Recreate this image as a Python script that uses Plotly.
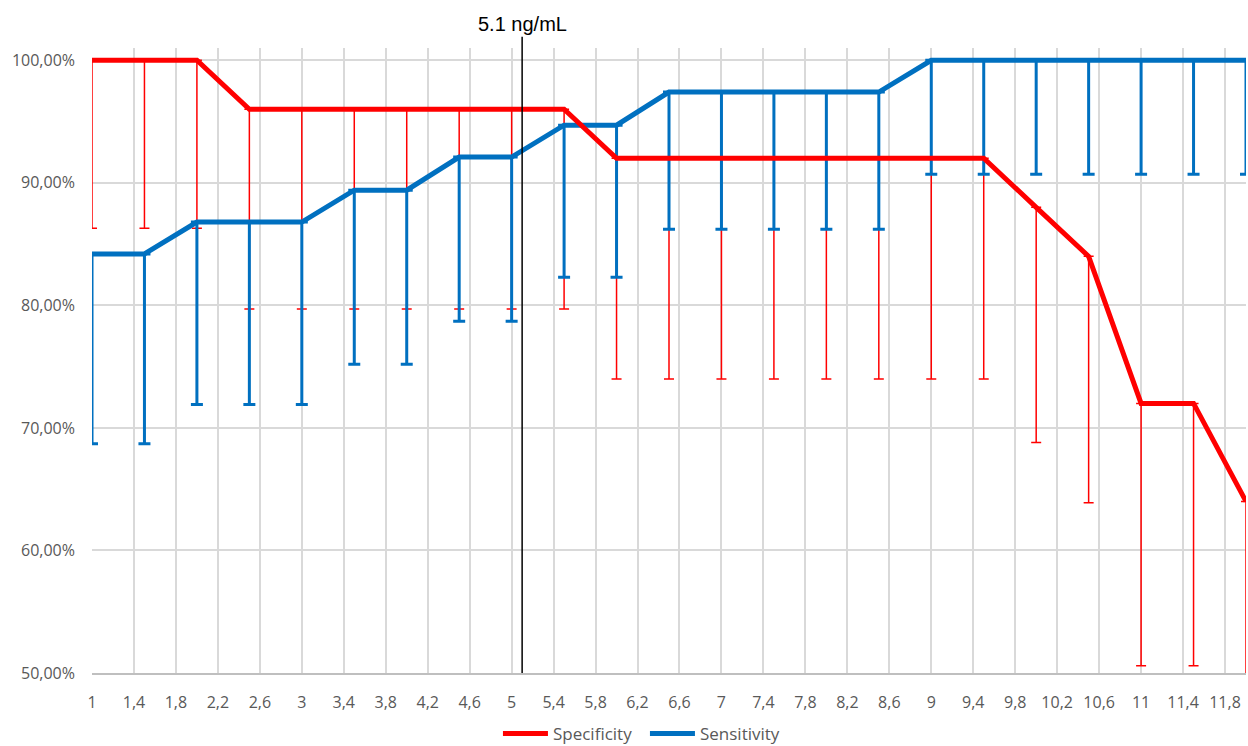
import plotly.graph_objects as go

# Cut-off values (ng/mL)
cutoff = [1, 1.5, 2, 2.5, 3, 3.5, 4, 4.5, 5, 5.5, 6, 6.5, 7, 7.5, 8, 8.5, 9, 9.5, 10, 10.5, 11, 11.5, 12]

# Specificity (%) and its lower confidence limit (%)
specificity = [100, 100, 100, 96, 96, 96, 96, 96, 96, 96, 92, 92, 92, 92, 92, 92, 92, 92, 88, 84, 72, 72, 64]
spec_lower = [86.3, 86.3, 86.3, 79.7, 79.7, 79.7, 79.7, 79.7, 79.7, 79.7, 74.0, 74.0, 74.0, 74.0, 74.0, 74.0, 74.0, 74.0, 68.8, 63.9, 50.6, 50.6, 42.5]

# Sensitivity (%) and its lower confidence limit (%)
sensitivity = [84.2, 84.2, 86.8, 86.8, 86.8, 89.4, 89.4, 92.1, 92.1, 94.7, 94.7, 97.4, 97.4, 97.4, 97.4, 97.4, 100, 100, 100, 100, 100, 100, 100]
sens_lower = [68.7, 68.7, 71.9, 71.9, 71.9, 75.2, 75.2, 78.7, 78.7, 82.3, 82.3, 86.2, 86.2, 86.2, 86.2, 86.2, 90.7, 90.7, 90.7, 90.7, 90.7, 90.7, 90.7]

# y-axis ticks
y_tickvals = [50, 60, 70, 80, 90, 100]
y_ticktext = ["50,00%", "60,00%", "70,00%", "80,00%", "90,00%", "100,00%"]

threshold = 5.1
threshold_label = "5.1 ng/mL"

RED = "#FF0000"
BLUE = "#0070C0"
GRAY = "#595959"
FONT = "Open Sans"

spec_minus = [s - l for s, l in zip(specificity, spec_lower)]
sens_minus = [s - l for s, l in zip(sensitivity, sens_lower)]

fig = go.Figure()

# red error bars (drawn below the blue series)
fig.add_trace(go.Scatter(
    x=cutoff, y=specificity, mode="markers",
    marker=dict(size=1, color="rgba(0,0,0,0)"),
    error_y=dict(type="data", symmetric=False, array=[0] * len(cutoff),
                 arrayminus=spec_minus, color=RED, thickness=1.5, width=5),
    showlegend=False, hoverinfo="skip",
))

# blue series with its error bars
fig.add_trace(go.Scatter(
    x=cutoff, y=sensitivity, mode="lines", name="Sensitivity",
    line=dict(color=BLUE, width=5),
    error_y=dict(type="data", symmetric=False, array=[0] * len(cutoff),
                 arrayminus=sens_minus, color=BLUE, thickness=3, width=6),
    legendrank=2,
))

# red line on top
fig.add_trace(go.Scatter(
    x=cutoff, y=specificity, mode="lines", name="Specificity",
    line=dict(color=RED, width=5),
    legendrank=1,
))

fig.add_shape(type="line", xref="x", yref="paper", x0=threshold, x1=threshold,
              y0=0, y1=1.018, line=dict(color="black", width=1.5))
fig.add_annotation(x=threshold, xref="x", y=1.038, yref="paper", text=threshold_label,
                   showarrow=False, yanchor="middle", xanchor="center",
                   font=dict(family="Liberation Sans", size=20, color="black"))

fig.update_layout(
    width=1248, height=746,
    margin=dict(l=92, r=2, t=48, b=73),
    paper_bgcolor="white", plot_bgcolor="white",
    separators=",.",
    font=dict(family=FONT, size=16, color=GRAY),
    showlegend=True,
    legend=dict(orientation="h", xref="container", x=0.399, xanchor="left",
                yref="container", y=0.016, yanchor="middle",
                font=dict(family=FONT, size=17, color=GRAY), itemwidth=45,
                entrywidth=87, entrywidthmode="pixels", tracegroupgap=0),
)

fig.update_xaxes(
    range=[1, 12], tick0=1, dtick=0.4, showgrid=True, gridcolor="#D9D9D9", gridwidth=1.5,
    zeroline=False, showline=True, linecolor="#BFBFBF", linewidth=1.5,
    ticks="", ticklabelstandoff=14, tickfont=dict(family=FONT, size=16, color=GRAY),
)
fig.update_yaxes(
    range=[50, 101], tickvals=y_tickvals, ticktext=y_ticktext,
    showgrid=True, gridcolor="#D9D9D9", gridwidth=1.5, zeroline=False, showline=False,
    ticks="", ticklabelstandoff=16, tickfont=dict(family=FONT, size=16, color=GRAY),
)

fig.write_html("out.html", config={"displayModeBar": False},
               post_script="document.body.style.margin='0';")
